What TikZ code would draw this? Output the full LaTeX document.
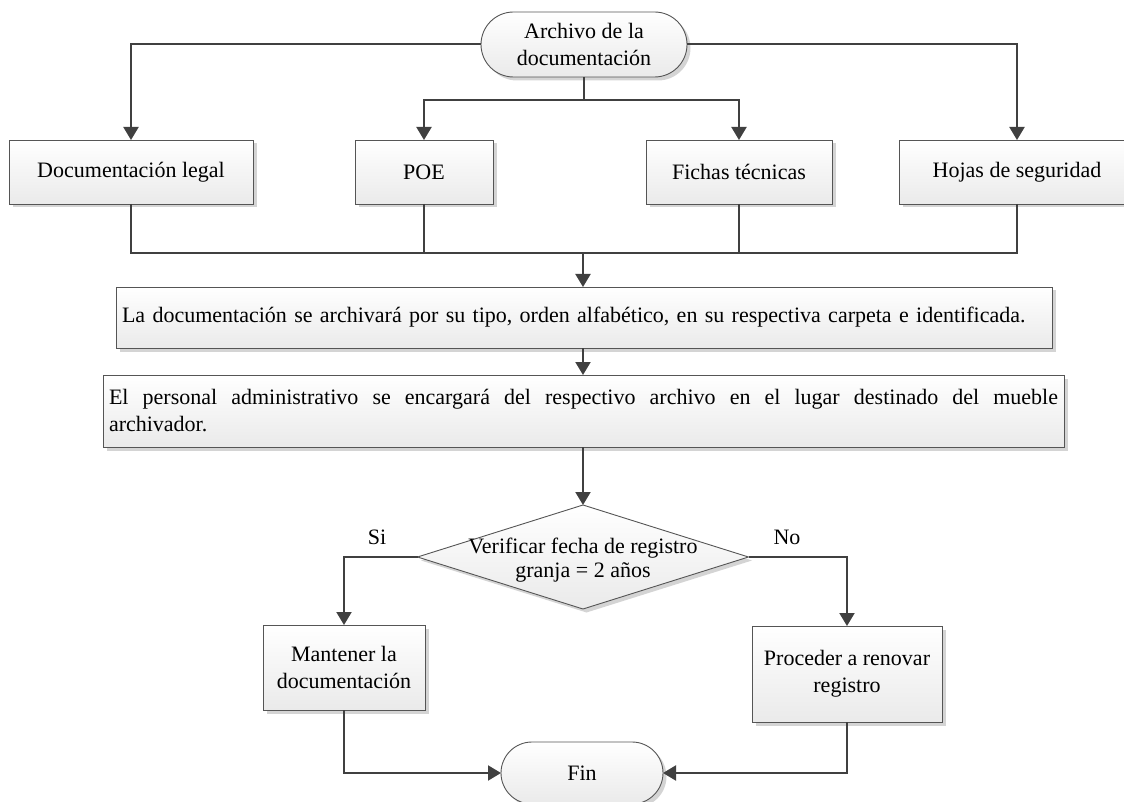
\documentclass[tikz,border=0pt]{standalone}
\usepackage{fontspec}
\setmainfont{Liberation Serif}
\usetikzlibrary{arrows.meta,shapes.misc,shapes.geometric,shadows}

\definecolor{edgecol}{HTML}{404040}
\definecolor{framecol}{HTML}{555555}
\definecolor{shadecol}{HTML}{EAEAEA}
\definecolor{shadowcol}{HTML}{D4D4D4}

\tikzset{
  base/.style={draw=framecol, line width=0.9pt, top color=white, bottom color=shadecol,
    drop shadow={shadow xshift=3.5pt, shadow yshift=-3.5pt, fill=shadowcol, opacity=1},
    font=\fontsize{22}{27}\selectfont, inner sep=0pt, outer sep=0pt},
  procbox/.style={base, rectangle, align=center},
  termbox/.style={base, rounded rectangle, align=center},
  decbox/.style={base, diamond},
  label/.style={font=\fontsize{22}{27}\selectfont, inner sep=0pt},
  link/.style={draw=edgecol, line width=2pt},
  flow/.style={link, -{Triangle[length=13pt,width=15pt]}}
}

\begin{document}
\begin{tikzpicture}[x=1pt, y=-1pt]
  \useasboundingbox (0,0) rectangle (1124,802);

  % start
  \node[termbox, minimum width=206pt, minimum height=65pt] (start) at (584,44.5)
    {Archivo de la\\documentación};

  % document types
  \node[procbox, minimum width=244pt, minimum height=64pt] (legal)  at (131,172) {Documentación legal};
  \node[procbox, minimum width=138pt, minimum height=64pt] (poe)    at (424,172) {POE};
  \node[procbox, minimum width=186pt, minimum height=64pt] (fichas) at (739,172) {Fichas técnicas};
  \node[procbox, minimum width=236pt, minimum height=64pt] (hojas)  at (1017,172) {Hojas de seguridad};

  % filing steps
  \node[procbox, align=left, text width=924pt, minimum height=61pt, inner xsep=6pt] (filing) at (584,317.5)
    {La documentación se archivará por su tipo, orden alfabético, en su respectiva carpeta e identificada.};
  \node[procbox, align=justify, text width=949pt, minimum height=72pt, inner xsep=6pt] (staff) at (583.5,411)
    {El personal administrativo se encargará del respectivo archivo en el lugar destinado del mueble\linebreak archivador.};

  % decision
  \node[decbox, minimum width=331pt, minimum height=104pt] (check) at (583,557) {};
  \node[label, align=center, font=\fontsize{22}{24.5}\selectfont] (checktext) at (583,560)
    {Verificar fecha de registro\\granja = 2 años};

  \node[label] (yes) at (377,537) {Si};
  \node[label] (no)  at (787,537) {No};

  % outcomes
  \node[procbox, minimum width=162pt, minimum height=85pt] (keep)  at (344,667.5)
    {Mantener la\\documentación};
  \node[procbox, minimum width=190pt, minimum height=96pt] (renew) at (847,674)
    {Proceder a renovar\\registro};

  % end
  \node[termbox, minimum width=162pt, minimum height=62pt] (fin) at (582,773) {Fin};

  % branching from the start
  \coordinate (split) at (584,100);
  \draw[link] (start.south) -- (split);
  \draw[flow] (split) -| (poe.north);
  \draw[flow] (split) -| (fichas.north);
  \draw[flow] (start.west) -| (legal.north);
  \draw[flow] (start.east) -| (hojas.north);

  % merging into the filing step
  \coordinate (merge) at (583,253);
  \draw[link] (legal.south) |- (merge);
  \draw[link] (hojas.south) |- (merge);
  \draw[link] (poe.south) |- (merge);
  \draw[link] (fichas.south) |- (merge);
  \draw[flow] (merge) -- (merge |- filing.north);

  \draw[flow] (filing.south -| merge) -- (merge |- staff.north);
  \draw[flow] (staff.south -| check.north) -- (check.north);

  % decision branches
  \draw[flow] (check.west) -| (keep.north);
  \draw[flow] (check.east) -| (renew.north);

  % to the end
  \draw[flow] (keep.south) |- (fin.west);
  \draw[flow] (renew.south) |- (fin.east);
\end{tikzpicture}
\end{document}
